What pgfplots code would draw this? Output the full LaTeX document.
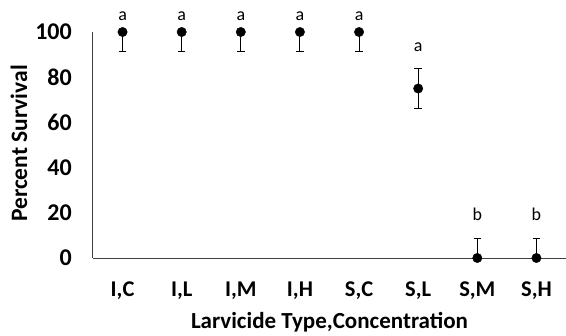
\documentclass[border=0pt]{standalone}
\usepackage{pgfplots}
\pgfplotsset{compat=1.18}
\usepackage{fontspec}
\setmainfont{Carlito}
\pgfplotstableread{
x y ep em
0 100 0 8.8
1 100 0 8.8
2 100 0 8.8
3 100 0 8.8
4 100 0 8.8
5 75 8.8 8.8
6 0 8.8 0
7 0 8.8 0
}\survival
\begin{document}
\begin{tikzpicture}
\tikzset{letter/.style={font=\fontsize{18bp}{20bp}\selectfont, anchor=base}}
\begin{axis}[
  at={(0,0)}, anchor=south west,
  scale only axis, width=473bp, height=226bp,
  xmin=-0.5, xmax=7.5, ymin=0, ymax=100,
  axis lines=left,
  axis line style={draw=black!75, line width=1bp, -},
  major tick length=0pt,
  xtick={0,...,7},
  xticklabels={{I,C},{I,L},{I,M},{I,H},{S,C},{S,L},{S,M},{S,H}},
  ytick={0,20,...,100},
  /pgf/number format/assume math mode=true,
  xticklabel style={font=\fontsize{22.5bp}{25bp}\selectfont\bfseries, anchor=base, yshift=-38.5bp},
  yticklabel style={font=\fontsize{24bp}{26bp}\selectfont\bfseries, anchor=east, inner sep=0pt, xshift=-21bp},
  xlabel={Larvicide Type,Concentration},
  ylabel={Percent Survival},
  xlabel style={font=\fontsize{23bp}{26bp}\selectfont\bfseries, at={(axis description cs:0.5,-0.313)}, anchor=base},
  ylabel style={font=\fontsize{23.5bp}{26bp}\selectfont\bfseries, at={(axis description cs:-0.1395,0.5066)}, anchor=base, rotate=0},
  clip=false,
]
\addplot[only marks, black, mark=*, mark size=4.7bp,
  error bars/.cd, y dir=both, y explicit,
  error bar style={line width=1bp, black},
  error mark options={rotate=90, mark size=3.7bp, line width=1bp, black}]
  table[x=x, y=y, y error plus=ep, y error minus=em] {\survival};
\node[letter] at (axis cs:0,105.3) {a};
\node[letter] at (axis cs:1,105.3) {a};
\node[letter] at (axis cs:2,105.3) {a};
\node[letter] at (axis cs:3,105.3) {a};
\node[letter] at (axis cs:4,105.3) {a};
\node[letter] at (axis cs:5,91.3) {a};
\node[letter] at (axis cs:6,16.5) {b};
\node[letter] at (axis cs:7,16.5) {b};
\end{axis}
\pgfresetboundingbox
\path[use as bounding box] (-93bp,-78bp) rectangle (473bp,258bp);
\end{tikzpicture}
\end{document}
